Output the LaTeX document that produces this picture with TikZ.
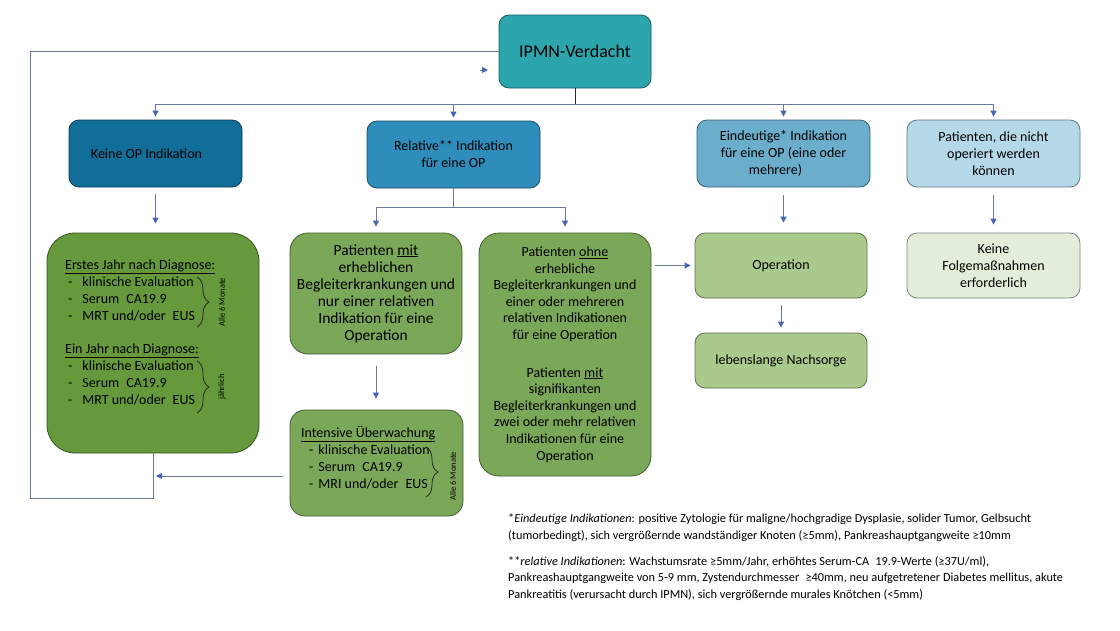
\documentclass[tikz,border=0pt]{standalone}
\usepackage{fontspec}
\setmainfont{Carlito}
\usetikzlibrary{arrows.meta,decorations.pathreplacing}
\definecolor{ipmncol}{RGB}{44,165,173}
\definecolor{keinecol}{RGB}{16,110,152}
\definecolor{relcol}{RGB}{46,141,186}
\definecolor{eincol}{RGB}{106,174,203}
\definecolor{nichtcol}{RGB}{180,216,231}
\definecolor{dgreen}{RGB}{101,153,59}
\definecolor{mgreen}{RGB}{122,168,88}
\definecolor{lgreen}{RGB}{169,202,140}
\definecolor{pgreen}{RGB}{226,238,217}
\definecolor{linecol}{RGB}{104,120,160}
\definecolor{tipcol}{RGB}{68,100,180}
\begin{document}
\begin{tikzpicture}[x=1pt,y=-1pt,
	box/.style={draw=#1!55!black,fill=#1,line width=0.8pt,rounded corners=10pt,inner sep=0pt,align=center,font=\fontsize{14}{17}\selectfont},
	lin/.style={draw=linecol,line width=0.9pt},
	arr/.style={lin,-{Triangle[width=6pt,length=6pt,color=tipcol]}},
	brc/.style={decorate,decoration={brace,amplitude=12pt},draw=black!85,line width=0.8pt},
	rot/.style={rotate=90,inner sep=0pt,font=\fontsize{8.5}{10}\selectfont}]
	\useasboundingbox (0,0) rectangle (1120,630);
	\fill[white] (0,0) rectangle (1120,630);
	\node[box=ipmncol,minimum width=152,minimum height=73,font=\fontsize{18}{21}\selectfont] (ipmn) at (575,51.5) {IPMN-Verdacht};
	\node[box=keinecol,minimum width=173,minimum height=67] (kop) at (155.5,153.5) {Keine OP Indikation\hspace*{18pt}};
	\node[box=relcol,minimum width=173,minimum height=67] (rel) at (453.5,154.5) {Relative** Indikation\\für eine OP};
	\node[box=eincol,minimum width=173,minimum height=67] (ein) at (783.5,153.5) {Eindeutige* Indikation\\für eine OP (eine oder\\mehrere)\hspace*{16pt}};
	\node[box=nichtcol,minimum width=173,minimum height=67] (nicht) at (993.5,153.5) {Patienten, die nicht\\operiert werden\\können};
	\node[box=dgreen,rounded corners=28pt,minimum width=212,minimum height=220] (kg) at (153,343) {};
	\node[box=mgreen,rounded corners=18pt,minimum width=172,minimum height=121,font=\fontsize{15.5}{17}\selectfont] (mit) at (376,293.5) {Patienten \underline{mit}\\erheblichen\\Begleiterkrankungen und\\nur einer relativen\\Indikation für eine\\Operation};
	\node[box=mgreen,rounded corners=20pt,minimum width=172,minimum height=243,font=\fontsize{14}{16.6}\selectfont] (ohne) at (565,354.5) {Patienten \underline{ohne}\\erhebliche\\Begleiterkrankungen und\\einer oder mehreren\\relativen Indikationen\\für eine Operation\\[21pt]Patienten \underline{mit}\\signifikanten\\Begleiterkrankungen und\\zwei oder mehr relativen\\Indikationen für eine\\Operation};
	\node[box=lgreen,minimum width=172,minimum height=65] (op) at (781,265.5) {Operation};
	\node[box=lgreen,minimum width=172,minimum height=55] (nach) at (781,360.5) {lebenslange Nachsorge};
	\node[box=pgreen,minimum width=173,minimum height=65] (kf) at (993.5,265.5) {Keine\\Folgemaßnahmen\\erforderlich};
	\node[box=mgreen,rounded corners=15pt,minimum width=173,minimum height=106] (int) at (376.5,463) {};
	\node[anchor=north west,inner sep=0pt,font=\fontsize{14}{17}\selectfont] (kgtxt) at (65,257.5) {\begin{tabular}{@{\hspace{3pt}}l@{\hspace{10pt}}l@{}}
		\multicolumn{2}{@{}l@{}}{\underline{Erstes Jahr nach Diagnose:}}\\
		-&klinische Evaluation\\
		-&Serum\enspace CA19.9\\
		-&MRT und/oder\enspace EUS\\[16pt]
		\multicolumn{2}{@{}l@{}}{\underline{Ein Jahr nach Diagnose:}}\\
		-&klinische Evaluation\\
		-&Serum\enspace CA19.9\\
		-&MRT und/oder\enspace EUS
	\end{tabular}};
	\node[anchor=north west,inner sep=0pt,font=\fontsize{14}{17}\selectfont] (inttxt) at (301,425.5) {\begin{tabular}{@{\hspace{8pt}}l@{\hspace{5pt}}l@{}}
		\multicolumn{2}{@{}l@{}}{\underline{Intensive Überwachung}}\\
		-&klinische Evaluation\\
		-&Serum\enspace CA19.9\\
		-&MRI und/oder\enspace EUS
	\end{tabular}};
	\draw[brc] (197,277) -- (197,327);
	\draw[brc] (197,361) -- (197,413);
	\draw[brc] (426,447) -- (426,497);
	\node[rot] (mon1) at (222,302) {Alle 6 Monate};
	\node[rot] (jahr) at (222,387) {jährlich};
	\node[rot] (mon2) at (453,476) {Alle 6 Monate};
	\coordinate (bus) at (575,104);
	\coordinate (rbus) at (455,207);
	\coordinate (back) at (156,476);
	\coordinate (loop) at (30,498);
	\coordinate (stray) at (488,70);
	\draw[line width=0.9pt,black!85] (ipmn.south) -- (bus);
	\draw[lin] (kop.north |- bus) -- (nicht.north |- bus);
	\foreach \n in {kop,rel,ein,nicht}
	\draw[arr,shorten >=3pt] (\n.north |- bus) -- (\n.north);
	\draw[lin] (rel.south) -- (rel.south |- rbus);
	\draw[lin] (mit.north |- rbus) -- (ohne.north |- rbus);
	\foreach \n in {mit,ohne}
	\draw[arr,shorten >=6pt] (\n.north |- rbus) -- (\n.north);
	\draw[arr,shorten <=7pt,shorten >=9pt] (kop.south) -- (kop.south |- kg.north);
	\draw[arr,shorten <=8pt,shorten >=10pt] (ein.south) -- (ein.south |- op.north);
	\draw[arr,shorten <=8pt,shorten >=8pt] (nicht.south) -- (nicht.south |- kf.north);
	\draw[arr,shorten <=7pt,shorten >=5pt] (op.south) -- (op.south |- nach.north);
	\draw[arr,shorten <=12pt,shorten >=11pt] (mit.south) -- (mit.south |- int.north);
	\draw[arr,shorten <=4pt,shorten >=4pt] (ohne.east |- op.west) -- (op.west);
	\draw[arr,shorten <=7pt] (int.west |- back) -- (back);
	\draw[lin] (kg.south) |- (loop) |- (ipmn.west);
	\draw[arr] ([xshift=-8pt]stray) -- (stray);
	\node[anchor=north west,align=left,inner sep=0pt,font=\fontsize{12.3}{16.3}\selectfont] (fn) at (508,514) {*\textit{Eindeutige Indikationen}: positive Zytologie für maligne/hochgradige Dysplasie, solider Tumor, Gelbsucht\\
		(tumorbedingt), sich vergrößernde wandständiger Knoten (≥5mm), Pankreashauptgangweite ≥10mm\\[10pt]
		**\textit{relative Indikationen}: Wachstumsrate ≥5mm/Jahr, erhöhtes Serum-CA\enspace 19.9-Werte (≥37U/ml),\\
		Pankreashauptgangweite von 5-9 mm, Zystendurchmesser\enspace ≥40mm, neu aufgetretener Diabetes mellitus, akute\\
		Pankreatitis (verursacht durch IPMN), sich vergrößernde murales Knötchen (<5mm)};
\end{tikzpicture}
\end{document}
